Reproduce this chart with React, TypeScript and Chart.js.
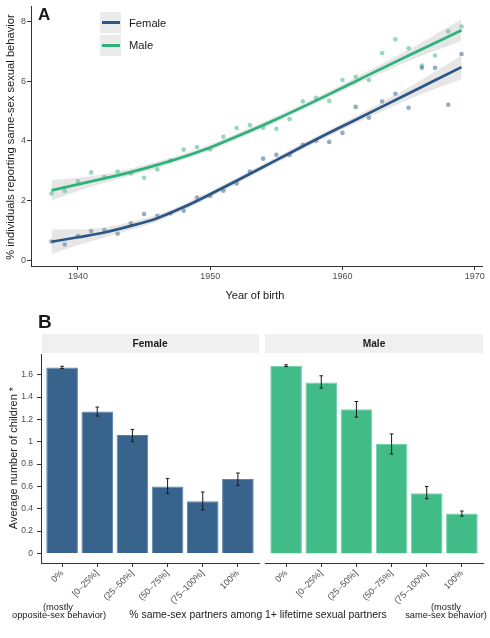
import React, { useEffect, useRef } from "react";
import { Chart, registerables } from "chart.js";
Chart.register(...registerables);

// ---------- Panel A data ----------
const birthYears = [1938, 1939, 1940, 1941, 1942, 1943, 1944, 1945, 1946, 1947, 1948, 1949, 1950, 1951, 1952, 1953, 1954, 1955, 1956, 1957, 1958, 1959, 1960, 1961, 1962, 1963, 1964, 1965, 1966, 1967, 1968, 1969];
const femalePct = [0.64, 0.54, 0.82, 0.99, 1.02, 0.9, 1.25, 1.56, 1.5, 1.58, 1.67, 2.11, 2.16, 2.34, 2.58, 2.98, 3.41, 3.54, 3.53, 3.87, 4.01, 3.97, 4.27, 5.14, 4.78, 5.32, 5.58, 5.11, 6.45, 6.45, 5.21, 6.91];
const malePct = [2.24, 2.33, 2.65, 2.95, 2.79, 2.98, 2.92, 2.77, 3.05, 3.35, 3.71, 3.8, 3.72, 4.14, 4.43, 4.53, 4.44, 4.41, 4.73, 5.33, 5.44, 5.34, 6.04, 6.15, 6.04, 6.94, 7.4, 7.1, 6.52, 6.86, 7.67, 7.83];

const fitYears = [1938, 1940, 1942, 1944, 1946, 1948, 1950, 1952, 1955, 1958, 1961, 1965, 1969];
const femaleFit = [0.63, 0.78, 0.94, 1.16, 1.42, 1.79, 2.22, 2.67, 3.36, 4.05, 4.71, 5.59, 6.47];
const maleFit = [2.35, 2.55, 2.75, 2.96, 3.2, 3.47, 3.78, 4.15, 4.73, 5.35, 6.0, 6.86, 7.7];
const femaleBand = [0.41, 0.26, 0.17, 0.13, 0.11, 0.1, 0.1, 0.1, 0.1, 0.1, 0.12, 0.2, 0.4];
const maleBand = [0.34, 0.22, 0.15, 0.12, 0.11, 0.1, 0.1, 0.1, 0.1, 0.1, 0.12, 0.19, 0.36];

const yearTicks = [1940, 1950, 1960, 1970];
const pctTicks = [0, 2, 4, 6, 8];

// ---------- Panel B data ----------
const partnerCats = ["0%", "[0–25%]", "(25–50%]", "(50–75%]", "(75–100%]", "100%"];
const femaleChildren = [1.665, 1.27, 1.06, 0.6, 0.467, 0.667];
const femaleLow = [1.655, 1.23, 1.0, 0.537, 0.39, 0.61];
const femaleHigh = [1.675, 1.31, 1.11, 0.67, 0.55, 0.72];
const maleChildren = [1.68, 1.53, 1.29, 0.98, 0.54, 0.357];
const maleLow = [1.672, 1.48, 1.22, 0.89, 0.49, 0.335];
const maleHigh = [1.688, 1.59, 1.36, 1.07, 0.6, 0.38];
const childTicks = [0, 0.2, 0.4, 0.6, 0.8, 1, 1.2, 1.4, 1.6];

const FONT = "'Liberation Sans', Arial, Helvetica, sans-serif";
const FEMALE_LINE = "#2b5685";
const MALE_LINE = "#2eb27c";
const FEMALE_BAR = "#37638c";
const MALE_BAR = "#41bc89";
const AXIS = "#333333";
const TICKTXT = "#4d4d4d";
const RIBBON = "rgba(160,160,160,0.26)";

Chart.defaults.font.family = FONT;

function errorBarPlugin(low: number[], high: number[]) {
  return {
    id: "errbars",
    afterDatasetsDraw(chart: any) {
      const ctx = chart.ctx;
      const xs = chart.scales.x;
      const ys = chart.scales.y;
      ctx.save();
      ctx.strokeStyle = "#1a1a1a";
      ctx.lineWidth = 1;
      low.forEach((lo, i) => {
        const x = xs.getPixelForValue(i + 1);
        const y1 = ys.getPixelForValue(lo);
        const y2 = ys.getPixelForValue(high[i]);
        ctx.beginPath();
        ctx.moveTo(x, y1);
        ctx.lineTo(x, y2);
        ctx.moveTo(x - 1.8, y1);
        ctx.lineTo(x + 1.8, y1);
        ctx.moveTo(x - 1.8, y2);
        ctx.lineTo(x + 1.8, y2);
        ctx.stroke();
      });
      ctx.restore();
    },
  };
}

function barConfig(values: number[], low: number[], high: number[], color: string, border: string, showY: boolean, pad: any): any {
  return {
    type: "bar",
    data: {
      datasets: [
        {
          data: values.map((v, i) => ({ x: i + 1, y: v })),
          backgroundColor: color,
          borderColor: border,
          borderWidth: 1,
          barPercentage: 0.9,
          categoryPercentage: 1,
        },
      ],
    },
    options: {
      responsive: false,
      animation: false,
      layout: { padding: pad },
      plugins: { legend: { display: false }, tooltip: { enabled: false } },
      scales: {
        x: {
          type: "linear",
          min: 0.4,
          max: 6.6,
          offset: false,
          afterBuildTicks: (s: any) => {
            s.ticks = partnerCats.map((_, i) => ({ value: i + 1 }));
          },
          afterFit: (s: any) => {
            s.height = 75;
          },
          ticks: {
            autoSkip: false,
            minRotation: 45,
            maxRotation: 45,
            callback: (v: any) => partnerCats[Math.round(v) - 1] ?? "",
            font: { size: 9 },
            color: TICKTXT,
            padding: 1,
          },
          grid: { display: true, drawOnChartArea: false, tickLength: 4, tickColor: AXIS, offset: false },
          border: { display: true, color: AXIS, width: 1 },
        },
        y: {
          type: "linear",
          min: -0.085,
          max: 1.785,
          display: showY,
          afterBuildTicks: (s: any) => {
            s.ticks = childTicks.map((v) => ({ value: v }));
          },
          afterFit: (s: any) => {
            s.width = showY ? 41 : 0;
          },
          ticks: {
            callback: (v: any) => String(Math.round(v * 10) / 10),
            font: { size: 8.5 },
            color: TICKTXT,
            padding: 4,
          },
          grid: { display: true, drawOnChartArea: false, tickLength: 4, tickColor: AXIS },
          border: { display: true, color: AXIS, width: 1 },
        },
      },
    },
    plugins: [errorBarPlugin(low, high)],
  };
}

function lineConfig(): any {
  const pts = (ys: number[]) => birthYears.map((x, i) => ({ x, y: ys[i] }));
  const fit = (ys: number[]) => fitYears.map((x, i) => ({ x, y: ys[i] }));
  const up = (ys: number[], b: number[]) => fitYears.map((x, i) => ({ x, y: ys[i] + b[i] }));
  const lo = (ys: number[], b: number[]) => fitYears.map((x, i) => ({ x, y: ys[i] - b[i] }));
  const bandDs = (data: any, fill: any) => ({
    data,
    borderColor: "transparent",
    backgroundColor: RIBBON,
    pointRadius: 0,
    fill,
    cubicInterpolationMode: "monotone",
  });
  return {
    type: "line",
    data: {
      datasets: [
        { label: "Female", data: fit(femaleFit), borderColor: FEMALE_LINE, borderWidth: 2.7, pointRadius: 0, fill: false, cubicInterpolationMode: "monotone" },
        { label: "Male", data: fit(maleFit), borderColor: MALE_LINE, borderWidth: 2.7, pointRadius: 0, fill: false, cubicInterpolationMode: "monotone" },
        bandDs(up(femaleFit, femaleBand), "+1"),
        bandDs(lo(femaleFit, femaleBand), false),
        bandDs(up(maleFit, maleBand), "+1"),
        bandDs(lo(maleFit, maleBand), false),
        { data: pts(femalePct), showLine: false, pointRadius: 2.3, pointBorderWidth: 0, pointBackgroundColor: "rgba(43,87,133,0.5)", borderColor: "transparent" },
        { data: pts(malePct), showLine: false, pointRadius: 2.3, pointBorderWidth: 0, pointBackgroundColor: "rgba(46,178,124,0.5)", borderColor: "transparent" },
      ],
    },
    options: {
      responsive: false,
      animation: false,
      layout: { padding: { top: 5, right: 8, left: 0, bottom: 0 } },
      plugins: { legend: { display: false }, tooltip: { enabled: false } },
      scales: {
        x: {
          type: "linear",
          min: 1936.45,
          max: 1970.55,
          afterBuildTicks: (s: any) => {
            s.ticks = yearTicks.map((v) => ({ value: v }));
          },
          afterFit: (s: any) => {
            s.height = 34;
          },
          ticks: { callback: (v: any) => String(v), font: { size: 9 }, color: TICKTXT, padding: 1, maxRotation: 0 },
          grid: { display: true, drawOnChartArea: false, tickLength: 4, tickColor: AXIS },
          border: { display: true, color: AXIS, width: 1 },
        },
        y: {
          type: "linear",
          min: -0.18,
          max: 8.5,
          afterBuildTicks: (s: any) => {
            s.ticks = pctTicks.map((v) => ({ value: v }));
          },
          afterFit: (s: any) => {
            s.width = 31;
          },
          ticks: { callback: (v: any) => String(v), font: { size: 9 }, color: TICKTXT, padding: 1 },
          grid: { display: true, drawOnChartArea: false, tickLength: 4, tickColor: AXIS },
          border: { display: true, color: AXIS, width: 1 },
        },
      },
    },
  };
}

function ChartCanvas({ config, left, top, width, height }: { config: () => any; left: number; top: number; width: number; height: number }) {
  const ref = useRef<HTMLCanvasElement | null>(null);
  useEffect(() => {
    if (!ref.current) return;
    const ch = new Chart(ref.current, config());
    return () => ch.destroy();
  }, []);
  return <canvas ref={ref} width={width} height={height} style={{ position: "absolute", left, top, width, height }} />;
}

// place text by baseline (line-height 1)
function Txt({ x, baseline, size, children, bold, align = "left", color = "#1a1a1a", family = FONT }: any) {
  const top = baseline - 0.8465 * size;
  const style: any = {
    position: "absolute",
    top,
    fontSize: size,
    lineHeight: `${size}px`,
    fontWeight: bold ? "bold" : "normal",
    fontFamily: family,
    color,
    whiteSpace: "nowrap",
  };
  style.left = x;
  if (align === "center") style.transform = "translateX(-50%)";
  return <div style={style}>{children}</div>;
}

function VTxt({ cx, cy, size, children }: any) {
  return (
    <div
      style={{
        position: "absolute",
        left: cx,
        top: cy,
        transform: "translate(-50%, -50%) rotate(-90deg)",
        fontSize: size,
        lineHeight: `${size}px`,
        fontFamily: FONT,
        color: "#1a1a1a",
        whiteSpace: "nowrap",
      }}
    >
      {children}
    </div>
  );
}

function LegendKey({ top, color }: { top: number; color: string }) {
  return (
    <div style={{ position: "absolute", left: 100, top, width: 21, height: 21, background: "#ebebeb" }}>
      <div style={{ position: "absolute", left: 1.5, top: 9, width: 18, height: 3, background: color }} />
    </div>
  );
}

export default function App() {
  return (
    <div style={{ position: "absolute", left: 0, top: 0, width: 490, height: 638, background: "#fff", overflow: "hidden" }}>
      <ChartCanvas config={lineConfig} left={0} top={0} width={490} height={300} />
      <ChartCanvas
        config={() => barConfig(femaleChildren, femaleLow, femaleHigh, FEMALE_BAR, "#5a83aa", true, { top: 14, right: 3, left: 0, bottom: 0 })}
        left={0}
        top={340}
        width={262}
        height={298}
      />
      <ChartCanvas
        config={() => barConfig(maleChildren, maleLow, maleHigh, MALE_BAR, "#72d1a8", false, { top: 14, right: 7, left: 3, bottom: 0 })}
        left={262}
        top={340}
        width={228}
        height={298}
      />

      {/* Panel A texts */}
      <Txt x={38} baseline={20} size={17} bold>A</Txt>
      <LegendKey top={12} color={FEMALE_LINE} />
      <LegendKey top={34.5} color={MALE_LINE} />
      <Txt x={129} baseline={27} size={11.2}>Female</Txt>
      <Txt x={129} baseline={49.3} size={11.2}>Male</Txt>
      <VTxt cx={11} cy={137} size={11.2}>% individuals reporting same-sex sexual behavior</VTxt>
      <Txt x={255} baseline={299.5} size={11} align="center">Year of birth</Txt>

      {/* Panel B texts */}
      <Txt x={38} baseline={328} size={19} bold>B</Txt>
      <div style={{ position: "absolute", left: 41.5, top: 334.3, width: 217.5, height: 18.5, background: "#f0f0f0" }} />
      <div style={{ position: "absolute", left: 265, top: 334.3, width: 218, height: 18.5, background: "#f0f0f0" }} />
      <Txt x={150} baseline={347.3} size={10.2} bold align="center">Female</Txt>
      <Txt x={374} baseline={347.3} size={10.2} bold align="center">Male</Txt>
      <VTxt cx={13} cy={458} size={11}>Average number of children *</VTxt>
      <Txt x={58} baseline={610.5} size={9.3} align="center">(mostly</Txt>
      <Txt x={59} baseline={619} size={9.3} align="center">opposite-sex behavior)</Txt>
      <Txt x={446} baseline={610.5} size={9.3} align="center">(mostly</Txt>
      <Txt x={446} baseline={619} size={9.3} align="center">same-sex behavior)</Txt>
      <Txt x={258} baseline={619} size={10.4} align="center">% same-sex partners among 1+ lifetime sexual partners</Txt>
    </div>
  );
}
